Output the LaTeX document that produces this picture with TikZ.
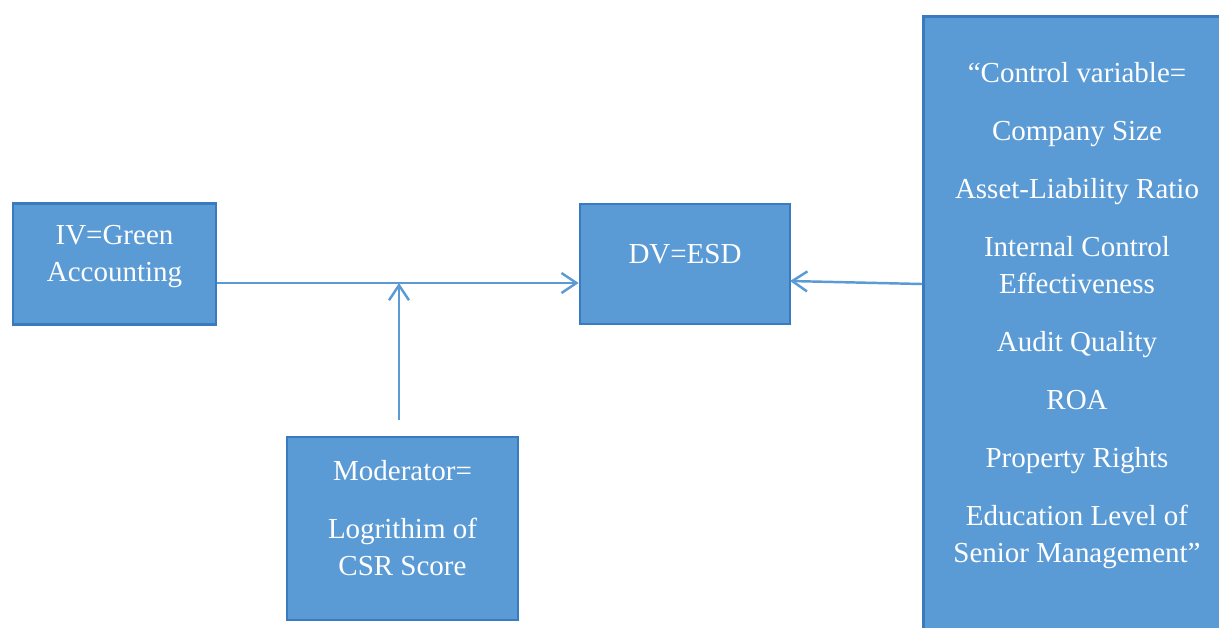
\documentclass[tikz,border=0pt]{standalone}
\usepackage{fontspec}
\setmainfont{Liberation Serif}
\usepackage{xcolor}
\usepackage{tikz}
\usetikzlibrary{calc, positioning, arrows.meta}
\definecolor{boxfill}{HTML}{5B9BD5}
\definecolor{boxline}{HTML}{3A7BBF}
\definecolor{linkcol}{HTML}{5B9BD5}
\tikzset{
    box/.style={rectangle, draw=boxline, line width=1.5pt, fill=boxfill, inner sep=0pt},
    txt/.style={align=center, text=white, inner sep=0pt, font={\fontsize{16.5}{21}\selectfont}},
    link/.style={-{Straight Barb[length=0.3cm, width=0.4cm, line width=1.4pt]}, draw=linkcol, line width=1.4pt}
}

\begin{document}
\begin{tikzpicture}[x=0.02cm, y=-0.02cm]
    % Frame
    \clip (0,0) rectangle (1219,627);
    \fill[white] (0,0) rectangle (1219,627);

    % Boxes
    \node[box, minimum width=4.06cm, minimum height=2.42cm] (iv) at (114.5,264) {};
    \node[box, minimum width=4.2cm, minimum height=2.4cm] (dv) at (685,264) {};
    \node[box, minimum width=4.62cm, minimum height=3.66cm] (mod) at (402.5,528.5) {};
    \node[box, anchor=north west, minimum width=7cm, minimum height=13cm] (ctrl) at (922,15) {};

    % Texts (base = last line)
    \node[txt, anchor=base] (ivtxt) at (114.5,281) {IV=Green\\Accounting};
    \node[txt, anchor=base] (dvtxt) at (685,263) {DV=ESD};
    \node[txt, anchor=base] (modtxt) at (402.5,575) {Moderator=\\[12pt]Logrithim of\\CSR Score};
    \node[txt, anchor=base] (ctrltxt) at (1077,562) {``Control variable=\\[12pt]
        Company Size\\[12pt]
        Asset-Liability Ratio\\[12pt]
        Internal Control\\Effectiveness\\[12pt]
        Audit Quality\\[12pt]
        ROA\\[12pt]
        Property Rights\\[12pt]
        Education Level of\\Senior Management''};

    % Connectors
    \coordinate (mid) at (399,283);
    \coordinate (modtop) at (399,420);
    \coordinate (ctrlout) at (922,284);
    \coordinate (dvin) at (790,281);
    \draw[link] (iv.east |- mid) -- (dv.west |- mid);
    \draw[link] (modtop) -- (mid);
    \draw[link] (ctrlout) -- (dvin);

\end{tikzpicture}
\end{document}
